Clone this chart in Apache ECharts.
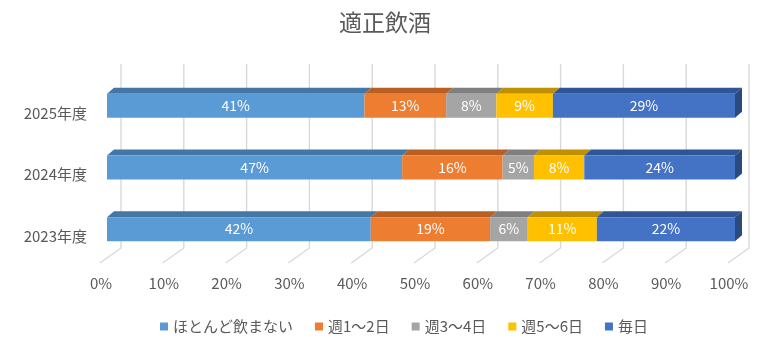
<!DOCTYPE html>
<html>
<head>
<meta charset="utf-8">
<script src="https://cdn.jsdelivr.net/npm/echarts@6/dist/echarts.min.js"></script>
<style>
html,body{margin:0;padding:0;background:#fff;}
#chart{width:770px;height:344px;}
</style>
</head>
<body>
<div id="chart"></div>
<script>
// Survey years (bottom to top on the category axis)
const years = ['2023年度', '2024年度', '2025年度'];
// Answer groups, in stacking order
const groups = ['ほとんど飲まない', '週1～2日', '週3～4日', '週5～6日', '毎日'];
// Share (%) of each answer group per year, same order as years
const neverVals  = [42, 47, 41];
const week12Vals = [19, 16, 13];
const week34Vals = [6, 5, 8];
const week56Vals = [11, 8, 9];
const dailyVals  = [22, 24, 29];
// Percent tick values along the value axis
const ticks = [0, 10, 20, 30, 40, 50, 60, 70, 80, 90, 100];

const groupVals = [neverVals, week12Vals, week34Vals, week56Vals, dailyVals];
const frontColors = ['#5B9BD5', '#ED7D31', '#A5A5A5', '#FFC000', '#4472C4'];
const topColors   = ['#4277A8', '#B95F22', '#7F7F7F', '#BF9000', '#2F5597'];
const sideColor   = '#2A4A82';

const FONT = '"Noto Sans CJK JP", "Noto Sans", sans-serif';
const BAR_H = 24;     // front face height
const DX = 7, DY = 6; // bar depth offset

// cumulative starts per year
const starts = years.map(() => 0);
const barSeries = groups.map((name, gi) => {
  const data = years.map((y, yi) => {
    const s = starts[yi];
    const v = groupVals[gi][yi];
    starts[yi] += v;
    return [yi, s, s + v, v];
  });
  const isLast = gi === groups.length - 1;
  return {
    name: name,
    type: 'custom',
    itemStyle: { color: frontColors[gi] },
    z: 3,
    data: data,
    renderItem: function (params, api) {
      const cat = api.value(0);
      const a = api.coord([api.value(1), cat]);
      const b = api.coord([api.value(2), cat]);
      const top = a[1] - BAR_H / 2;
      const bot = a[1] + BAR_H / 2;
      const children = [
        {
          type: 'polygon',
          shape: { points: [[a[0], top], [a[0] + DX, top - DY], [b[0] + DX, top - DY], [b[0], top]] },
          style: { fill: topColors[gi] }
        },
        {
          type: 'rect',
          shape: { x: a[0], y: top, width: b[0] - a[0], height: BAR_H },
          style: { fill: frontColors[gi] }
        },
        {
          type: 'text',
          style: {
            x: (a[0] + b[0]) / 2, y: a[1],
            text: api.value(3) + '%',
            fill: '#FFFFFF', font: '14px ' + FONT,
            align: 'center', verticalAlign: 'middle'
          },
          z2: 10
        }
      ];
      if (isLast) {
        children.push({
          type: 'polygon',
          shape: { points: [[b[0], top], [b[0] + DX, top - DY], [b[0] + DX, bot - DY], [b[0], bot]] },
          style: { fill: sideColor }
        });
      }
      return { type: 'group', children: children };
    }
  };
});

// back-wall and floor gridlines of the 3D box
const gridSeries = {
  name: 'grid',
  type: 'custom',
  silent: true,
  z: 1,
  data: ticks.map(t => [t]),
  renderItem: function (params, api) {
    const cs = params.coordSys;
    const x = api.coord([api.value(0), 0])[0];
    const gTop = cs.y, gBot = cs.y + cs.height;
    return {
      type: 'polyline',
      shape: { points: [[x + 14, gTop - 11], [x + 14, gBot - 12], [x - 7, gBot + 3]] },
      style: { stroke: '#D9D9D9', lineWidth: 1.4, fill: null }
    };
  }
};

const chart = echarts.init(document.getElementById('chart'));
chart.setOption({
  animation: false,
  backgroundColor: '#ffffff',
  textStyle: { fontFamily: FONT },
  title: {
    text: '適正飲酒',
    left: 'center',
    top: 6,
    textStyle: { fontSize: 23, fontWeight: 'normal', color: '#595959', fontFamily: FONT }
  },
  legend: {
    data: groups,
    top: 314,
    left: 155,
    icon: 'rect',
    itemWidth: 8,
    itemHeight: 8,
    itemGap: 22,
    textStyle: { fontSize: 15, color: '#595959', fontFamily: FONT }
  },
  grid: { left: 107, right: 35, top: 75, bottom: 84 },
  xAxis: {
    type: 'value',
    min: 0, max: 100, interval: 10,
    axisLine: { show: false },
    axisTick: { show: false },
    splitLine: { show: false },
    axisLabel: {
      formatter: '{value}%',
      color: '#595959', fontSize: 15, fontFamily: FONT,
      margin: 16, padding: [0, 12, 0, 0]
    }
  },
  yAxis: {
    type: 'category',
    data: years,
    axisLine: { show: false },
    axisTick: { show: false },
    splitLine: { show: false },
    axisLabel: {
      color: '#595959', fontSize: 15, fontFamily: FONT,
      margin: 20, verticalAlign: 'top', lineHeight: 14
    }
  },
  series: [gridSeries].concat(barSeries)
});
</script>
</body>
</html>
